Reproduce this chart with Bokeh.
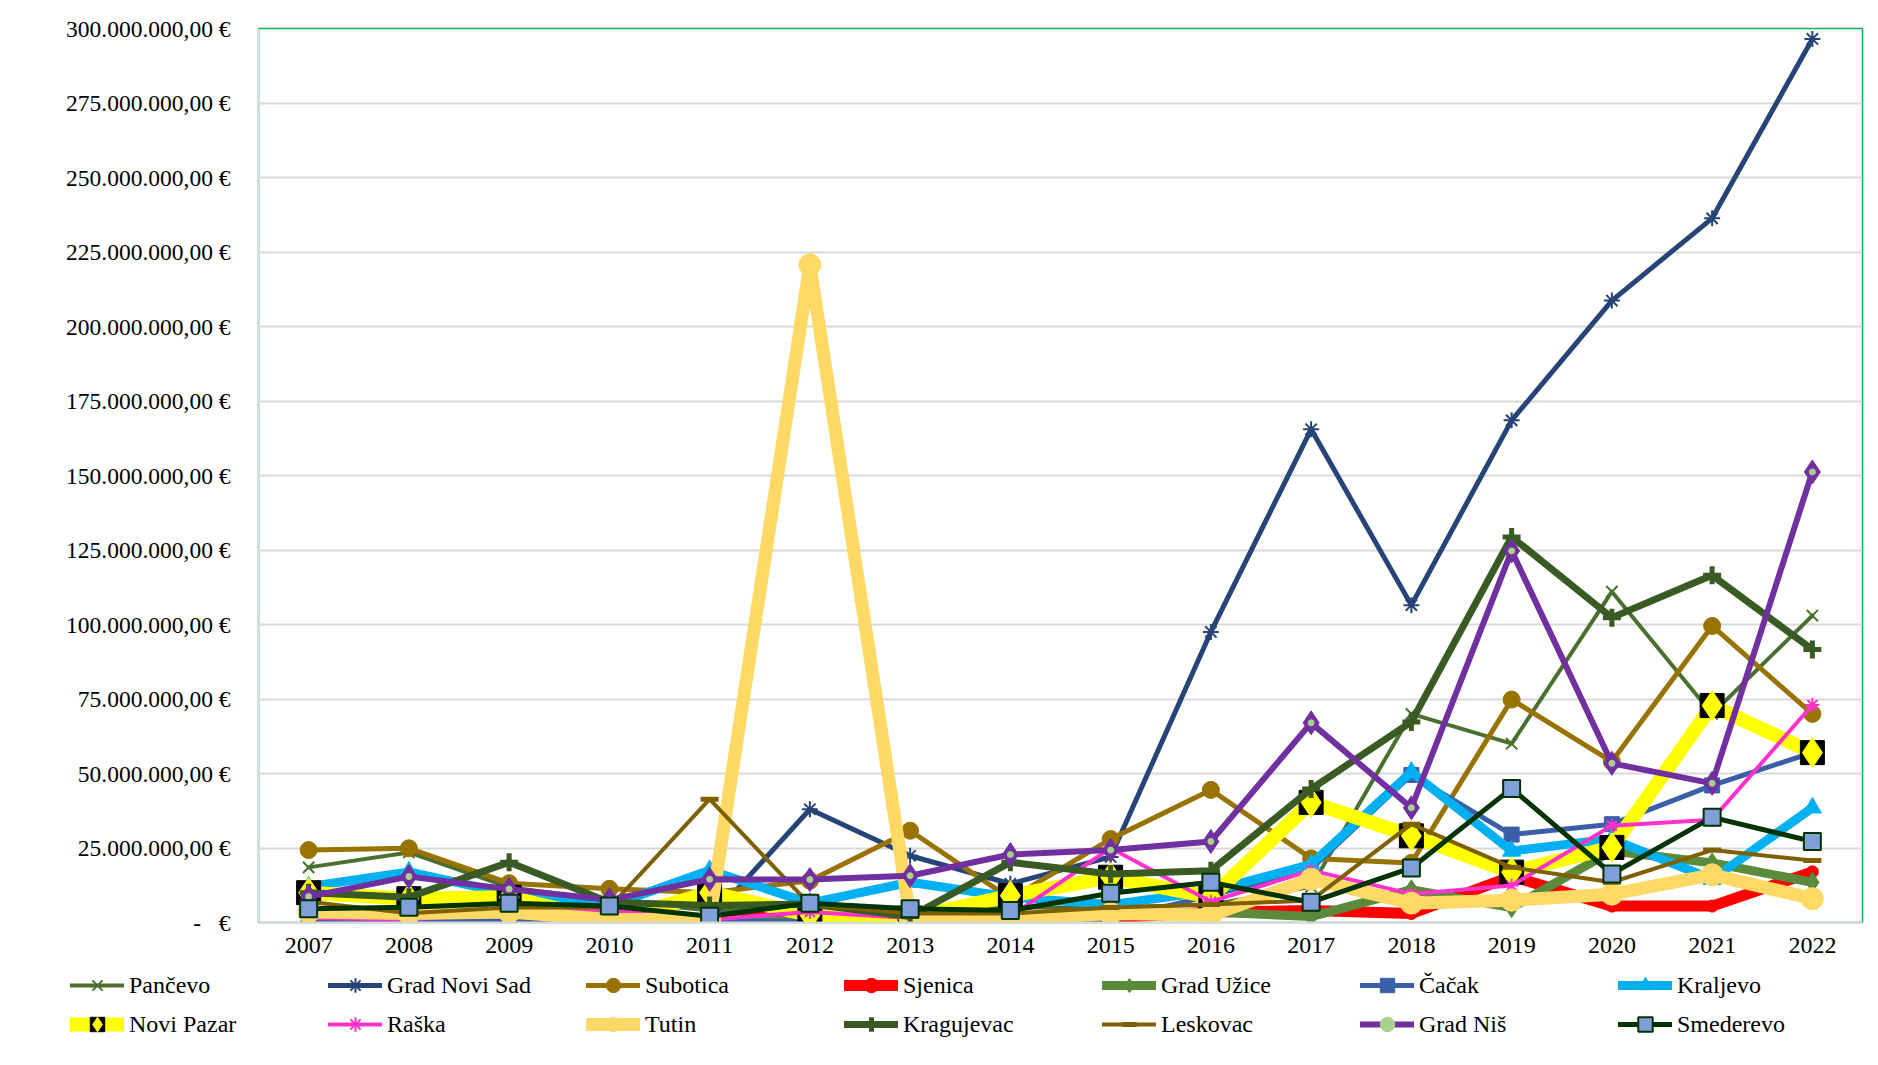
from bokeh.plotting import figure
from bokeh.models import FixedTicker, Legend, LegendItem, FactorRange, Range1d
from bokeh.embed import file_html
from bokeh.resources import INLINE

# ---------------- data (values in millions of EUR) ----------------
years = [str(y) for y in range(2007, 2023)]

pancevo    = [18.5, 23.5, 11.8, 7.4, 4.0, 5.0, 3.0, 5.0, 5.0, 6.0, 12.0, 70.0, 60.0, 111.0, 70.0, 103.0]
novi_sad   = [0.8, 0.8, 0.8, 0.8, 1.0, 38.0, 22.4, 13.0, 22.0, 97.5, 165.5, 106.5, 168.5, 208.7, 236.3, 296.5]
subotica   = [24.3, 24.9, 13.2, 11.3, 10.0, 14.0, 30.8, 8.0, 28.0, 44.5, 21.5, 20.0, 74.8, 54.0, 99.5, 70.0]
sjenica    = [0.5, 0.3, 0.3, 0.3, 0.5, 3.0, 1.0, 0.5, 1.5, 3.5, 4.0, 3.0, 15.5, 5.5, 5.5, 17.0]
uzice      = [0.3, 0.3, 1.0, 0.5, 0.5, 0.5, 1.0, 0.5, 2.0, 3.5, 2.0, 11.0, 5.0, 24.0, 20.0, 13.5]
cacak      = [0.5, 0.5, 0.5, 0.5, 0.5, 0.3, 0.5, 0.5, 1.0, 9.0, 18.0, 49.5, 29.5, 33.0, 46.0, 57.0]
kraljevo   = [12.0, 17.0, 9.6, 5.5, 17.5, 6.5, 13.5, 8.5, 6.0, 10.5, 19.5, 50.5, 24.0, 28.0, 14.5, 38.5]
novi_pazar = [10.0, 8.0, 8.5, 0.5, 10.0, 2.5, 1.5, 9.0, 15.2, 8.5, 40.3, 29.1, 16.9, 25.2, 72.8, 57.0]
raska      = [1.5, 1.0, 3.5, 4.0, 1.0, 3.5, 1.5, 2.0, 25.0, 7.0, 17.5, 9.6, 12.4, 32.5, 34.5, 73.0]
tutin      = [3.5, 3.0, 3.5, 1.0, 1.0, 220.7, 1.5, 1.0, 3.0, 2.5, 14.5, 6.5, 7.5, 9.5, 16.0, 8.0]
kragujevac = [10.0, 8.5, 20.2, 6.8, 5.7, 6.2, 2.0, 20.2, 16.3, 17.4, 44.8, 67.3, 129.4, 102.3, 116.5, 91.6]
leskovac   = [7.0, 3.1, 5.0, 5.0, 41.4, 6.0, 3.0, 3.0, 5.0, 6.0, 7.4, 33.0, 18.5, 13.5, 24.3, 20.8]
nis        = [8.7, 15.4, 11.2, 7.6, 14.5, 14.4, 15.7, 22.8, 24.3, 27.2, 67.0, 38.5, 124.7, 53.4, 46.7, 151.2]
smederevo  = [4.6, 5.1, 6.5, 5.5, 2.1, 6.5, 4.6, 4.0, 9.8, 13.5, 6.8, 18.3, 45.0, 16.3, 35.3, 27.2]

series_names = ["Pančevo", "Grad Novi Sad", "Subotica", "Sjenica", "Grad Užice", "Čačak", "Kraljevo",
                "Novi Pazar", "Raška", "Tutin", "Kragujevac", "Leskovac", "Grad Niš", "Smederevo"]
series_values = [pancevo, novi_sad, subotica, sjenica, uzice, cacak, kraljevo,
                 novi_pazar, raska, tutin, kragujevac, leskovac, nis, smederevo]

y_tick_values = [0, 25, 50, 75, 100, 125, 150, 175, 200, 225, 250, 275, 300]
y_tick_labels = ["-\u00a0\u00a0\u00a0€", "25.000.000,00 €", "50.000.000,00 €", "75.000.000,00 €",
                 "100.000.000,00 €", "125.000.000,00 €", "150.000.000,00 €", "175.000.000,00 €",
                 "200.000.000,00 €", "225.000.000,00 €", "250.000.000,00 €", "275.000.000,00 €",
                 "300.000.000,00 €"]

MILLION = 1_000_000

# ---------------- styles ----------------
# (line color, line width, marker layers: (marker, size, fill, line color, line width))
styles = {
    "Pančevo":       ("#4A7030", 4, [("x", 16, None, "#4A7030", 2)]),
    "Grad Novi Sad": ("#264478", 5, [("asterisk", 16, None, "#264478", 2)]),
    "Subotica":      ("#997300", 5, [("circle", 17, "#997300", "#997300", 1)]),
    "Sjenica":       ("#FF0000", 11, [("circle", 12, "#FF0000", "#FF0000", 1)]),
    "Grad Užice":    ("#5B8A3A", 9, [("diamond", 20, "#5B8A3A", "#5B8A3A", 1)]),
    "Čačak":         ("#3A5FA8", 5, [("square", 15, "#3A5FA8", "#3A5FA8", 1)]),
    "Kraljevo":      ("#00B0F0", 9, [("triangle", 18, "#00B0F0", "#00B0F0", 1)]),
    "Novi Pazar":    ("#FFFF00", 14, [("square", 24, "#000000", "#000000", 1),
                                      ("diamond", 30, "#FFFF00", "#FFFF00", 1)]),
    "Raška":         ("#FF33CC", 4, [("asterisk", 14, None, "#FF33CC", 2)]),
    "Tutin":         ("#FFD966", 13, [("circle", 22, "#FFD966", "#FFD966", 1)]),
    "Kragujevac":    ("#3A5A24", 7, [("cross", 18, None, "#3A5A24", 5)]),
    "Leskovac":      ("#7F6000", 4, [("dash", 18, None, "#7F6000", 5)]),
    "Grad Niš":      ("#7030A0", 6, [("diamond", 24, "#7030A0", "#7030A0", 1),
                                     ("circle", 6, "#A9D18E", "#A9D18E", 1)]),
    "Smederevo":     ("#003300", 5, [("square", 17, "#7F9FD8", "#003300", 2)]),
}

FONT = "Liberation Serif"

# ---------------- main chart ----------------
p = figure(width=1878, height=960,
           x_range=FactorRange(*years), y_range=Range1d(0, 300 * MILLION),
           output_backend="svg", toolbar_location=None,
           min_border_left=258, min_border_right=16, min_border_top=28, min_border_bottom=38)

p.background_fill_color = "white"
p.border_fill_color = "white"
p.outline_line_color = "#00B050"
p.outline_line_width = 1.5

p.xgrid.grid_line_color = None
p.ygrid.grid_line_color = "#D9D9D9"
p.ygrid.grid_line_width = 2

p.yaxis.ticker = FixedTicker(ticks=[v * MILLION for v in y_tick_values])
p.yaxis.major_label_overrides = {v * MILLION: lab for v, lab in zip(y_tick_values, y_tick_labels)}
p.yaxis.major_label_text_font = FONT
p.yaxis.major_label_text_font_size = "23.5px"
p.yaxis.major_label_text_color = "#000000"
p.yaxis.major_label_standoff = 22
p.yaxis.axis_line_color = "#CFE0D6"
p.yaxis.axis_line_width = 2
p.yaxis.major_tick_line_color = None
p.yaxis.minor_tick_line_color = None

p.xaxis.major_label_text_font = FONT
p.xaxis.major_label_text_font_size = "24px"
p.xaxis.major_label_text_color = "#000000"
p.xaxis.major_label_standoff = 9
p.xaxis.axis_line_color = "#D9D9D9"
p.xaxis.axis_line_width = 2
p.xaxis.major_tick_line_color = None
p.xaxis.minor_tick_line_color = None

# ---------------- legend strip: its own root, so its frame starts at the left edge ----------------
# It holds the same series, on a y range that keeps them out of view, only to feed the legend.
lf = figure(width=1878, height=105, x_range=FactorRange(*years),
            y_range=Range1d(-2000 * MILLION, -1000 * MILLION),
            output_backend="svg", toolbar_location=None,
            x_axis_location=None, y_axis_location=None, min_border=0)
lf.grid.visible = False
lf.outline_line_color = None
lf.background_fill_color = "white"
lf.border_fill_color = "white"

items = []
for name, vals in zip(series_names, series_values):
    color, lw, markers = styles[name]
    ys = [v * MILLION for v in vals]
    line_kw = dict(line_color=color, line_width=lw, line_join="round", line_cap="round")
    p.line(years, ys, **line_kw)
    legend_rs = [lf.line(years, ys, **line_kw)]
    for (mk, size, fill, lc, mlw) in markers:
        kw = dict(marker=mk, size=size, fill_color=fill, fill_alpha=1.0 if fill else 0.0,
                  line_color=lc, line_width=mlw)
        p.scatter(years, ys, **kw)
        legend_rs.append(lf.scatter(years, ys, **kw))
    items.append(LegendItem(label=name, renderers=legend_rs))

for row_items, loc in ((items[:7], (70, 62)), (items[7:], (70, 23))):
    lg = Legend(items=row_items, orientation="horizontal", location=loc,
                glyph_width=54, glyph_height=36, label_standoff=5, label_width=196,
                spacing=3, padding=0, margin=0,
                border_line_color=None, background_fill_alpha=0,
                label_text_font=FONT, label_text_font_size="24px", label_text_color="#000000")
    lf.add_layout(lg)

open("out.html", "w").write(file_html([p, lf], INLINE))
